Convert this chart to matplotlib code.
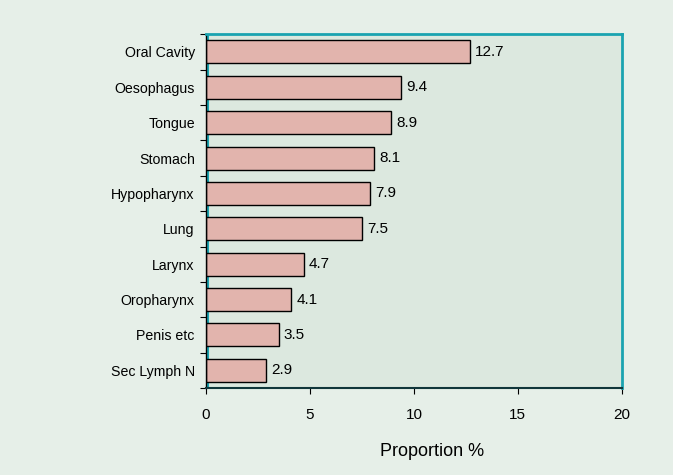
import matplotlib.pyplot as plt
import numpy as np

plt.rcParams['font.family'] = ['Liberation Sans', 'DejaVu Sans']

sites = ['Oral Cavity', 'Oesophagus', 'Tongue', 'Stomach', 'Hypopharynx',
         'Lung', 'Larynx', 'Oropharynx', 'Penis etc', 'Sec Lymph N']
proportions = [12.7, 9.4, 8.9, 8.1, 7.9, 7.5, 4.7, 4.1, 3.5, 2.9]
x_ticks = [0, 5, 10, 15, 20]

teal = '#1aa3b0'

fig = plt.figure(figsize=(6.73, 4.75), dpi=100, facecolor='#e6efe8')
ax = fig.add_axes([0.306, 0.183, 0.618, 0.745], facecolor='#dce8df')

ypos = np.arange(len(sites))[::-1]
ax.barh(ypos, proportions, height=0.65, color='#e2b4ad', edgecolor='black',
        linewidth=1, zorder=2)
for y, v in zip(ypos, proportions):
    ax.text(v + 0.25, y, f'{v}', va='center', ha='left', fontsize=11, zorder=3)

ax.set_xlim(0, 20)
ax.set_ylim(-0.5, 9.5)
ax.set_xticks(x_ticks)
ax.set_xticklabels([str(t) for t in x_ticks], fontsize=11)
ax.set_yticks(np.arange(-0.5, 10, 1))
ax.set_yticklabels([])
ax.set_yticks(ypos, minor=True)
ax.set_yticklabels(sites, minor=True, fontsize=10.2)
ax.tick_params(axis='y', which='minor', length=0, pad=8)
ax.tick_params(axis='y', which='major', length=4, direction='out', color='black')
ax.tick_params(axis='x', length=4, direction='out', pad=10, color='black')

for side in ['top', 'right']:
    ax.spines[side].set_color(teal)
    ax.spines[side].set_linewidth(2)
ax.spines['left'].set_color('black')
ax.spines['bottom'].set_color('#10363a')
ax.spines['left'].set_linewidth(1)
ax.spines['bottom'].set_linewidth(1.5)
ax.axvline(0.08, color=teal, linewidth=1.5, zorder=1)

ax.set_xlabel('Proportion %', fontsize=13)
ax.xaxis.set_label_coords(0.543, -0.155)

fig.savefig('out.png', dpi=100, facecolor=fig.get_facecolor())
